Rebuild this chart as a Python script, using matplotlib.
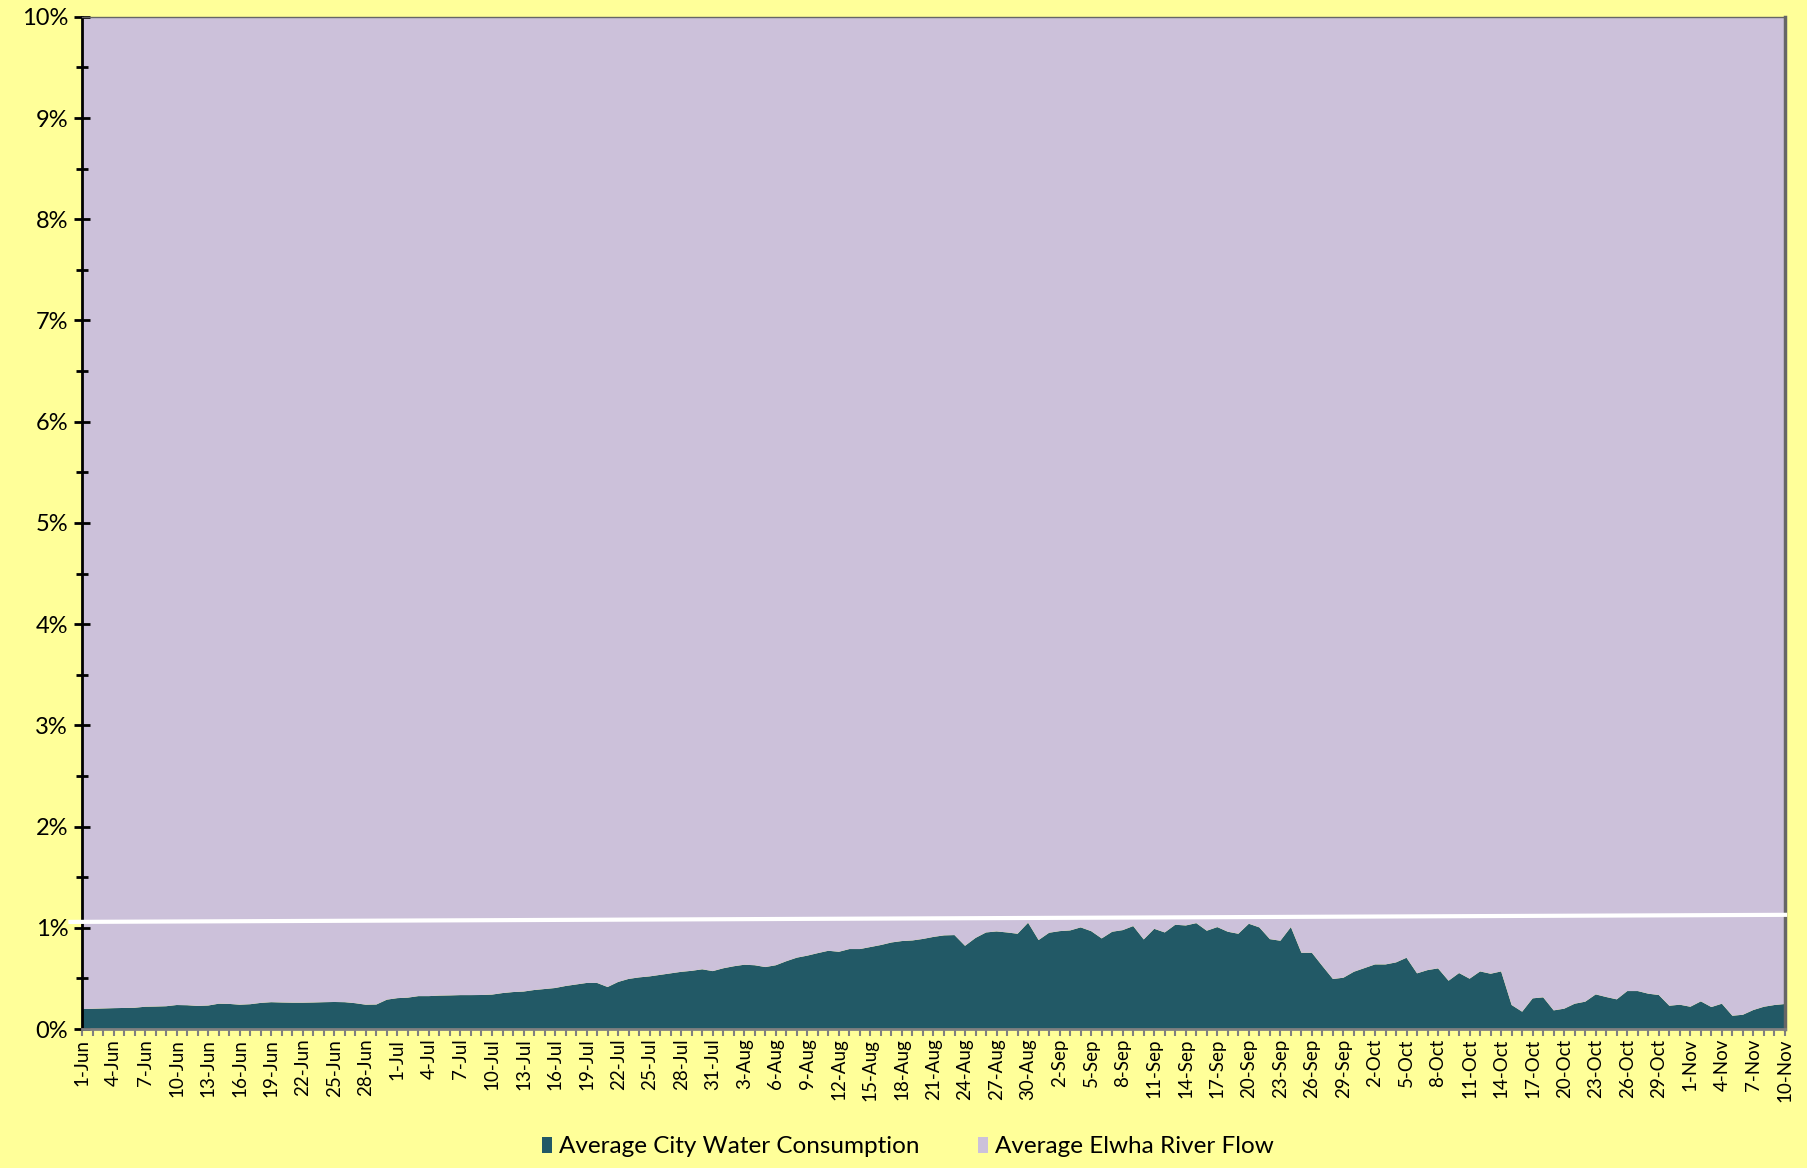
import numpy as np
import matplotlib.pyplot as plt
from matplotlib.ticker import MultipleLocator, FuncFormatter
import datetime as dt

plt.rcParams['font.family'] = ['Lato', 'DejaVu Sans']

# daily dates 1-Jun .. 10-Nov
start = dt.date(2013, 6, 1)
dates = [start + dt.timedelta(days=k) for k in range(163)]
date_labels = [f"{d.day}-{d.strftime('%b')}" for d in dates]

# city water consumption as % of (consumption + river flow)
consumption = [
    0.197, 0.200, 0.203, 0.206, 0.208, 0.210, 0.220, 0.222, 0.225, 0.237,
    0.235, 0.228, 0.232, 0.250, 0.248, 0.240, 0.245, 0.258, 0.265, 0.262,
    0.260, 0.260, 0.262, 0.265, 0.267, 0.265, 0.255, 0.240, 0.242, 0.290,
    0.305, 0.310, 0.325, 0.325, 0.330, 0.332, 0.335, 0.335, 0.336, 0.340,
    0.355, 0.365, 0.370, 0.385, 0.395, 0.405, 0.425, 0.440, 0.455, 0.455,
    0.415, 0.465, 0.495, 0.510, 0.520, 0.535, 0.550, 0.565, 0.575, 0.590,
    0.572, 0.600, 0.620, 0.635, 0.630, 0.612, 0.630, 0.670, 0.705, 0.725,
    0.750, 0.773, 0.763, 0.790, 0.790, 0.810, 0.830, 0.855, 0.869, 0.875,
    0.890, 0.910, 0.925, 0.928, 0.822, 0.900, 0.954, 0.964, 0.954, 0.941,
    1.050, 0.879, 0.951, 0.967, 0.974, 1.004, 0.967, 0.895, 0.961, 0.977,
    1.017, 0.885, 0.990, 0.954, 1.030, 1.023, 1.046, 0.971, 1.007, 0.961,
    0.941, 1.040, 1.004, 0.888, 0.872, 1.007, 0.753, 0.753, 0.622, 0.494,
    0.507, 0.566, 0.602, 0.638, 0.638, 0.658, 0.704, 0.550, 0.582, 0.599,
    0.477, 0.553, 0.497, 0.569, 0.546, 0.569, 0.237, 0.171, 0.303, 0.313,
    0.184, 0.201, 0.250, 0.270, 0.342, 0.316, 0.293, 0.375, 0.375, 0.349,
    0.336, 0.230, 0.240, 0.220, 0.273, 0.217, 0.250, 0.131, 0.141, 0.188,
    0.220, 0.237, 0.247,
]
river_flow = [100 - c for c in consumption]

# linear trendline end points (day index, %)
trend_x = [-1.1, 162]
trend_y = [1.058, 1.128]

x = np.arange(len(consumption))

fig = plt.figure(figsize=(18.07, 11.68), dpi=100, facecolor='#FFFF99')
ax = fig.add_axes([0.0454, 0.119, 0.9424, 0.8666])
ax.set_facecolor('#FFFF99')

ax.stackplot(x, consumption, river_flow, colors=['#225966', '#CCC1DA'],
             labels=['Average City Water Consumption', 'Average Elwha River Flow'])
ax.plot(trend_x, trend_y, color='white', lw=3, clip_on=False, zorder=5)

ax.set_xlim(0, 162)
ax.set_ylim(0, 10)

# y axis
ax.yaxis.set_major_locator(MultipleLocator(1))
ax.yaxis.set_minor_locator(MultipleLocator(0.5))
ax.yaxis.set_major_formatter(FuncFormatter(lambda v, p: f"{v:.0f}%"))
ax.tick_params(axis='y', which='major', direction='inout', length=12, width=2,
               labelsize=17, pad=4)
ax.tick_params(axis='y', which='minor', direction='inout', length=8, width=2)

# x axis: tick every day, label every third day
ax.set_xticks(x[::3])
ax.set_xticklabels(date_labels[::3], rotation=90)
ax.set_xticks(x, minor=True)
ax.tick_params(axis='x', which='both', direction='out', length=5, width=1.5,
               color='#808080', labelsize=13.5, pad=2)

ax.spines['left'].set_linewidth(2)
ax.spines['left'].set_color('black')
ax.spines['bottom'].set_color('#808080')
ax.spines['bottom'].set_linewidth(2)
ax.spines['right'].set_color('#666666')
ax.spines['right'].set_linewidth(2.5)
ax.spines['top'].set_color('#666666')
ax.spines['top'].set_linewidth(1)

leg = fig.legend(loc='center', bbox_to_anchor=(0.5025, 0.018), ncol=2,
                 frameon=False, fontsize=17.5, handlelength=0.4, handleheight=0.65,
                 handletextpad=0.3, columnspacing=2.4)

fig.savefig('out.png', dpi=100, facecolor=fig.get_facecolor())
